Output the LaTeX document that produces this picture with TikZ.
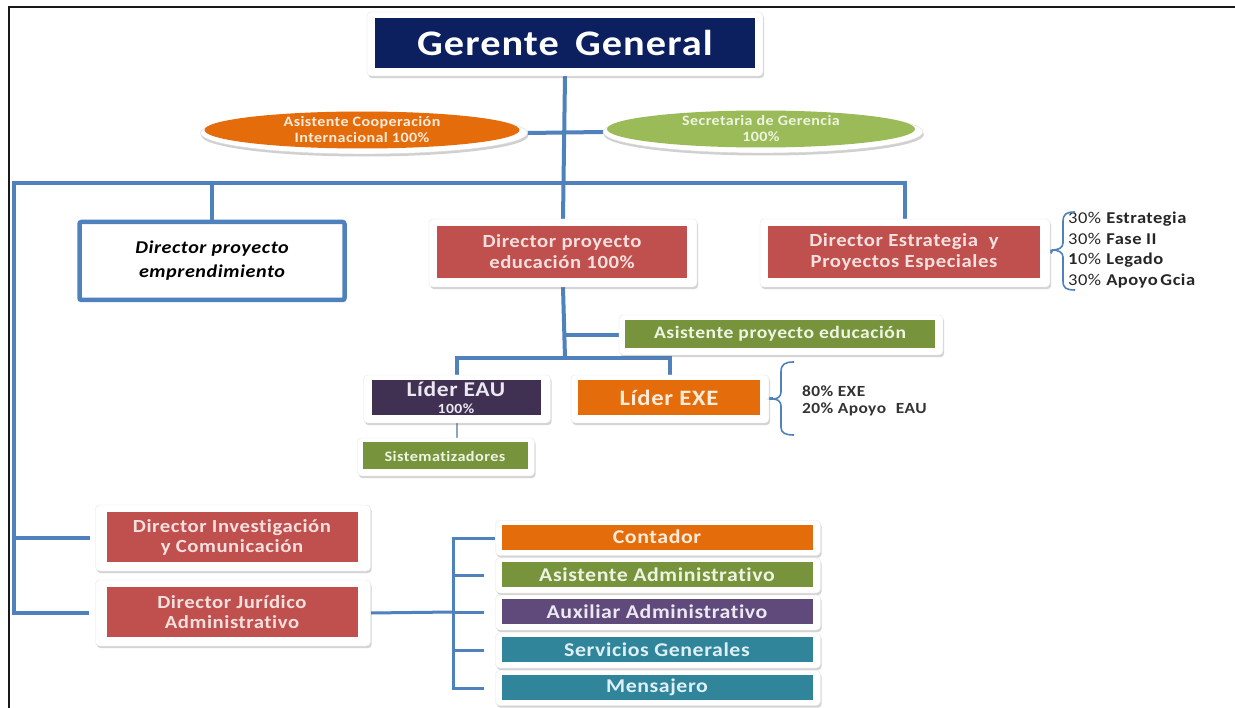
\documentclass[tikz,border=0pt]{standalone}
\usepackage{fontspec}
\setmainfont{Carlito}[FakeStretch=1.12,LetterSpace=3,Ligatures=NoCommon]
\usetikzlibrary{shapes.geometric,shadows,calc}
\pgfdeclarelayer{bg}
\pgfsetlayers{bg,main}

\definecolor{navy}{RGB}{12,32,96}
\definecolor{redbox}{RGB}{192,80,77}
\definecolor{greenbox}{RGB}{119,147,60}
\definecolor{lightgreen}{RGB}{155,187,89}
\definecolor{orangebox}{RGB}{228,108,10}
\definecolor{plum}{RGB}{64,49,82}
\definecolor{violetbox}{RGB}{96,74,123}
\definecolor{tealbox}{RGB}{49,133,155}
\definecolor{linkblue}{RGB}{79,129,189}
\definecolor{onred}{RGB}{246,224,223}
\definecolor{ongreen}{RGB}{238,244,226}
\definecolor{onorange}{RGB}{253,236,220}
\definecolor{onplum}{RGB}{236,232,242}
\definecolor{onteal}{RGB}{222,240,245}

\newcommand\fsz[2]{\fontsize{#1}{#2}\selectfont}

\tikzset{
  frm/.style={draw=black!10, fill=white, rounded corners=4pt, inner sep=0pt,
    drop shadow={shadow xshift=1.2pt, shadow yshift=-2.2pt, opacity=0.28, fill=black!60}},
  box/.style={inner sep=0pt, align=center, font=\bfseries},
  redb/.style={box, fill=redbox, text=onred},
  greenb/.style={box, fill=greenbox, text=ongreen},
  orangeb/.style={box, fill=orangebox, text=onorange},
  tealb/.style={box, fill=tealbox, text=onteal},
  conn/.style={draw=linkblue, line width=4pt},
  thinconn/.style={draw=linkblue, line width=3pt},
  brc/.style={draw=linkblue, line width=1.6pt},
  note/.style={inner sep=0pt, align=left, text=black!85},
  oval/.style={ellipse, inner sep=0pt, align=center, font=\bfseries\fsz{14.3}{16}},
  ovalrim/.style={ellipse, inner sep=0pt, fill=white, draw=black!15,
    drop shadow={shadow xshift=0.8pt, shadow yshift=-2.5pt, opacity=0.3, fill=black!60}},
}

\begin{document}
\begin{tikzpicture}[x=1pt, y=-1pt]
\useasboundingbox (0,0) rectangle (1235,708);
\begin{pgfonlayer}{bg}
  \fill[white] (0,0) rectangle (1235,708);
\end{pgfonlayer}

% outer rule on the top and left
\draw[line width=2.5pt, black!90] (9,708) -- (9,7) -- (1235,7);

% general manager
\node[frm, minimum width=396pt, minimum height=64pt] (gerF) at (565,44) {};
\node[box, fill=navy, text=white, minimum width=380pt, minimum height=50pt,
      font=\bfseries\fsz{36}{40}] (ger) at (565,43) {Gerente\hspace{0.45em}General};

% assistants beside the manager
\node[ovalrim, minimum width=327pt, minimum height=42pt] (coopR) at (364,133) {};
\node[oval, fill=orangebox, text=onorange, minimum width=315pt, minimum height=32pt]
      (coop) at (362,130) {Asistente Cooperación\\Internacional 100\%};
\node[ovalrim, minimum width=320pt, minimum height=42pt] (secR) at (763,132) {};
\node[oval, fill=lightgreen, text=ongreen, minimum width=308pt, minimum height=32pt]
      (sec) at (761,129) {Secretaria de Gerencia\\100\%};

% directors, first row
\node[box, fill=white, draw=linkblue, line width=4.5pt, rounded corners=2pt,
      minimum width=265pt, minimum height=78pt, text=black,
      font=\bfseries\itshape\fsz{18}{24}] (emp) at (212,261)
      {Director proyecto\\emprendimiento};

\node[frm, minimum width=268pt, minimum height=68pt] (eduF) at (563,253) {};
\node[redb, minimum width=250pt, minimum height=52pt, font=\bfseries\fsz{18.5}{21}]
      (edu) at (562,252) {Director proyecto\\educación 100\%};

\node[frm, minimum width=290pt, minimum height=68pt] (estF) at (905,253) {};
\node[redb, minimum width=272pt, minimum height=52pt, font=\bfseries\fsz{18.5}{21}]
      (est) at (904,252) {Director Estrategia\hspace{0.3em} y\\Proyectos Especiales};

% time split of the strategy director
\coordinate (estTip) at (1052,250);
\node[note, anchor=west, font=\fsz{16.5}{20.7}] (estTxt) at (1068,250)
  {30\% \textbf{Estrategia}\\30\% \textbf{Fase II}\\\textbf{1}0\% \textbf{Legado}\\30\% \textbf{Apoyo\,Gcia}};

% education project team
\node[frm, minimum width=324pt, minimum height=40pt] (asiF) at (781,335) {};
\node[greenb, minimum width=310pt, minimum height=28pt, font=\bfseries\fsz{17.5}{20}]
      (asi) at (780,334) {Asistente proyecto educación};

\node[frm, minimum width=187pt, minimum height=48pt] (eauF) at (457,399) {};
\node[box, fill=plum, text=onplum, minimum width=169pt, minimum height=35pt,
      font=\bfseries\fsz{21}{17}] (eau) at (456,398)
      {Líder EAU\\{\fsz{14}{14}\selectfont 100\%}};

\node[frm, minimum width=198pt, minimum height=48pt] (exeF) at (670,399) {};
\node[orangeb, minimum width=182pt, minimum height=35pt, font=\bfseries\fsz{22}{24}]
      (exe) at (669,398) {Líder EXE};

\coordinate (exeTip) at (773,399);
\node[note, anchor=west, font=\bfseries\fsz{15.5}{17.5}, text=black!80] (exeTxt) at (802,401)
  {80\% EXE\\20\% Apoyo\hspace{0.35em} EAU};

\node[frm, minimum width=177pt, minimum height=38pt] (sisF) at (446,457) {};
\node[greenb, minimum width=165pt, minimum height=27pt, font=\bfseries\fsz{14.5}{16}]
      (sis) at (445,456) {Sistematizadores};

% directors, lower left
\node[frm, minimum width=275pt, minimum height=66pt] (invF) at (233,538) {};
\node[redb, minimum width=251pt, minimum height=50pt, font=\bfseries\fsz{18.5}{20}]
      (inv) at (232,537) {Director Investigación\\y Comunicación};

\node[frm, minimum width=275pt, minimum height=66pt] (jurF) at (233,613) {};
\node[redb, minimum width=251pt, minimum height=50pt, font=\bfseries\fsz{18.5}{20}]
      (jur) at (232,612) {Director Jurídico\\Administrativo};

% administrative staff
\tikzset{staff/.style={minimum width=311pt, minimum height=25pt, font=\bfseries\fsz{19.5}{20}},
         stafffrm/.style={frm, minimum width=325pt, minimum height=35pt}}
\node[stafffrm] (ctrF) at (658,538) {};
\node[orangeb, staff] (ctr) at (657,537) {Contador};
\node[stafffrm] (aadF) at (658,575.5) {};
\node[greenb, staff] (aad) at (657,574.5) {Asistente Administrativo};
\node[stafffrm] (auxF) at (658,612.5) {};
\node[box, staff, fill=violetbox, text=onplum] (aux) at (657,611.5) {Auxiliar Administrativo};
\node[stafffrm] (sgF) at (658,650.5) {};
\node[tealb, staff] (sg) at (657,649.5) {Servicios Generales};
\node[stafffrm] (menF) at (658,688) {};
\node[tealb, staff] (men) at (657,687) {Mensajero};

% connectors, drawn beneath the boxes
\coordinate (busL) at (14,183);
\coordinate (lb) at (565,358);
\coordinate (jb) at (453,612);

\begin{pgfonlayer}{bg}
  \draw[conn] (gerF.south) -- (eduF.north);
  \draw[conn] (coopR.east) -- (secR.west);
  \draw[conn, shorten <=6pt] (jurF.west) -- (jurF.west -| busL) -- (busL)
        -- (busL -| estF.north) -- (estF.north);
  \draw[conn, shorten <=5pt] (invF.west) -- (invF.west -| busL);
  \draw[conn] (busL -| emp.north) -- (emp.north);
  \draw[conn] (eduF.south) -- (lb);
  \draw[conn] (eduF.south |- asiF.west) -- (asiF.west);
  \draw[conn] (eauF.north) -- (eauF.north |- lb) -- (exeF.north |- lb) -- (exeF.north);
  \draw[draw=linkblue!80!black!60, line width=2.5pt] (eauF.south) -- (eauF.south |- sisF.north);
  \draw[thinconn] (exeF.east) -- (exeTip);
  \draw[thinconn] (estF.east) -- (estTip);
  \draw[thinconn] (jurF.east) -- (jb);
  \draw[thinconn, shorten >=11pt] (ctrF.west) -- (ctrF.west -| jb) -- (menF.west -| jb) -- (menF.west);
  \draw[thinconn, shorten <=11pt] (ctrF.west) -- (ctrF.west -| jb);
  \draw[thinconn, shorten <=11pt] (aadF.west) -- (aadF.west -| jb);
  \draw[thinconn, shorten <=11pt] (auxF.west) -- (auxF.west -| jb);
  \draw[thinconn, shorten <=11pt] (sgF.west) -- (sgF.west -| jb);
\end{pgfonlayer}

% braces
\draw[brc] (1075,212) .. controls (1066,212) and (1063,214) .. (1063,222) -- (1063,243)
  .. controls (1063,248) and (1058,250) .. (estTip)
  .. controls (1058,250) and (1063,252) .. (1063,257) -- (1063,281)
  .. controls (1063,288) and (1066,290) .. (1075,290);
\draw[brc] (794,362) .. controls (785,362) and (781,364) .. (781,372) -- (781,392)
  .. controls (781,397) and (777,399) .. (exeTip)
  .. controls (777,399) and (781,401) .. (781,406) -- (781,427)
  .. controls (781,433) and (785,435) .. (794,435);
\end{tikzpicture}
\end{document}
